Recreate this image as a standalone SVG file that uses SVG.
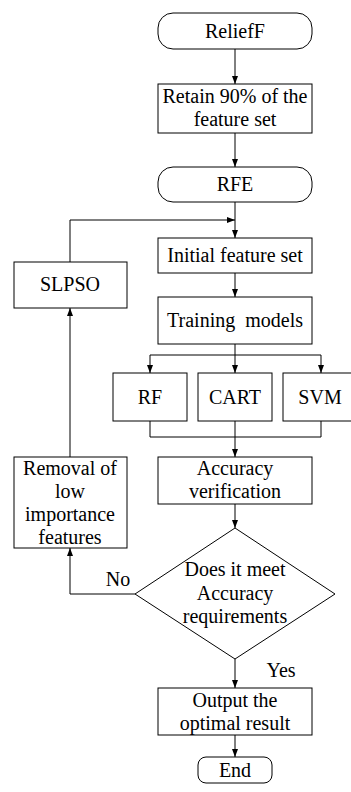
<svg xmlns="http://www.w3.org/2000/svg" width="351" height="792" viewBox="0 0 351 792" font-family="Liberation Serif, Times New Roman, serif" font-size="20">
<style>
.n{fill:#fff;stroke:#000;stroke-width:1}
.t{fill:#000;text-anchor:middle}
.c{fill:none;stroke:#000;stroke-width:1}
</style>
<defs>
<marker id="a" viewBox="0 0 8 8" refX="8" refY="4" markerWidth="8" markerHeight="8" markerUnits="userSpaceOnUse" orient="auto">
<path d="M0,1 L8,4 L0,7 Z" fill="#000"/>
</marker>
</defs>
<rect width="351" height="792" fill="#fff"/>
<g id="connectors">
<path class="c" d="M235,49 V84" marker-end="url(#a)"/>
<path class="c" d="M235,133 V167" marker-end="url(#a)"/>
<path class="c" d="M235,202 V238" marker-end="url(#a)"/>
<path class="c" d="M70,262 V220 H235" marker-end="url(#a)"/>
<path class="c" d="M235,273 V297" marker-end="url(#a)"/>
<path class="c" d="M235,344 V373" marker-end="url(#a)"/>
<path class="c" d="M150,355 H321"/>
<path class="c" d="M150,355 V373" marker-end="url(#a)"/>
<path class="c" d="M321,355 V373" marker-end="url(#a)"/>
<path class="c" d="M150,421 V437 H321 V421"/>
<path class="c" d="M235,421 V457" marker-end="url(#a)"/>
<path class="c" d="M235,504 V528" marker-end="url(#a)"/>
<path class="c" d="M70,457 V308" marker-end="url(#a)"/>
<path class="c" d="M135,594 H70 V548" marker-end="url(#a)"/>
<path class="c" d="M235,659 V688" marker-end="url(#a)"/>
<path class="c" d="M235,735 V757" marker-end="url(#a)"/>
<text class="t" x="118" y="586">No</text>
<text class="t" x="281" y="677">Yes</text>
</g>
<g id="relieff">
<rect class="n" x="158" y="13" width="154" height="36" rx="15"/>
<text class="t" x="235" y="38">ReliefF</text>
</g>
<g id="retain">
<rect class="n" x="158" y="84" width="154" height="49"/>
<text class="t" x="235" y="103">Retain 90% of the</text>
<text class="t" x="235" y="126">feature set</text>
</g>
<g id="rfe">
<rect class="n" x="158" y="167" width="154" height="35" rx="15"/>
<text class="t" x="235" y="191">RFE</text>
</g>
<g id="initial">
<rect class="n" x="158" y="238" width="154" height="35"/>
<text class="t" x="235" y="262">Initial feature set</text>
</g>
<g id="slpso">
<rect class="n" x="14" y="262" width="113" height="46"/>
<text class="t" x="70" y="291">SLPSO</text>
</g>
<g id="training">
<rect class="n" x="158" y="297" width="154" height="47"/>
<text class="t" x="235" y="327">Training&#160; models</text>
</g>
<g id="rf">
<rect class="n" x="113" y="373" width="74" height="48"/>
<text class="t" x="150" y="404">RF</text>
</g>
<g id="cart">
<rect class="n" x="198" y="373" width="74" height="48"/>
<text class="t" x="235" y="404">CART</text>
</g>
<g id="svm">
<rect class="n" x="283" y="373" width="74" height="48"/>
<text class="t" x="320" y="404">SVM</text>
</g>
<g id="accuracy">
<rect class="n" x="158" y="457" width="154" height="47"/>
<text class="t" x="235" y="475">Accuracy</text>
<text class="t" x="235" y="498">verification</text>
</g>
<g id="removal">
<rect class="n" x="14" y="457" width="113" height="91"/>
<text class="t" x="70" y="475">Removal of</text>
<text class="t" x="70" y="498">low</text>
<text class="t" x="70" y="521">importance</text>
<text class="t" x="70" y="544">features</text>
</g>
<g id="decision">
<path class="n" d="M235,528 L335,594 L235,659 L135,594 Z"/>
<text class="t" x="235" y="576">Does it meet</text>
<text class="t" x="235" y="600">Accuracy</text>
<text class="t" x="235" y="623">requirements</text>
</g>
<g id="output">
<rect class="n" x="158" y="688" width="154" height="47"/>
<text class="t" x="235" y="707">Output the</text>
<text class="t" x="235" y="730">optimal result</text>
</g>
<g id="end">
<rect class="n" x="198" y="757" width="74" height="26" rx="8"/>
<text class="t" x="235" y="777">End</text>
</g>
</svg>
